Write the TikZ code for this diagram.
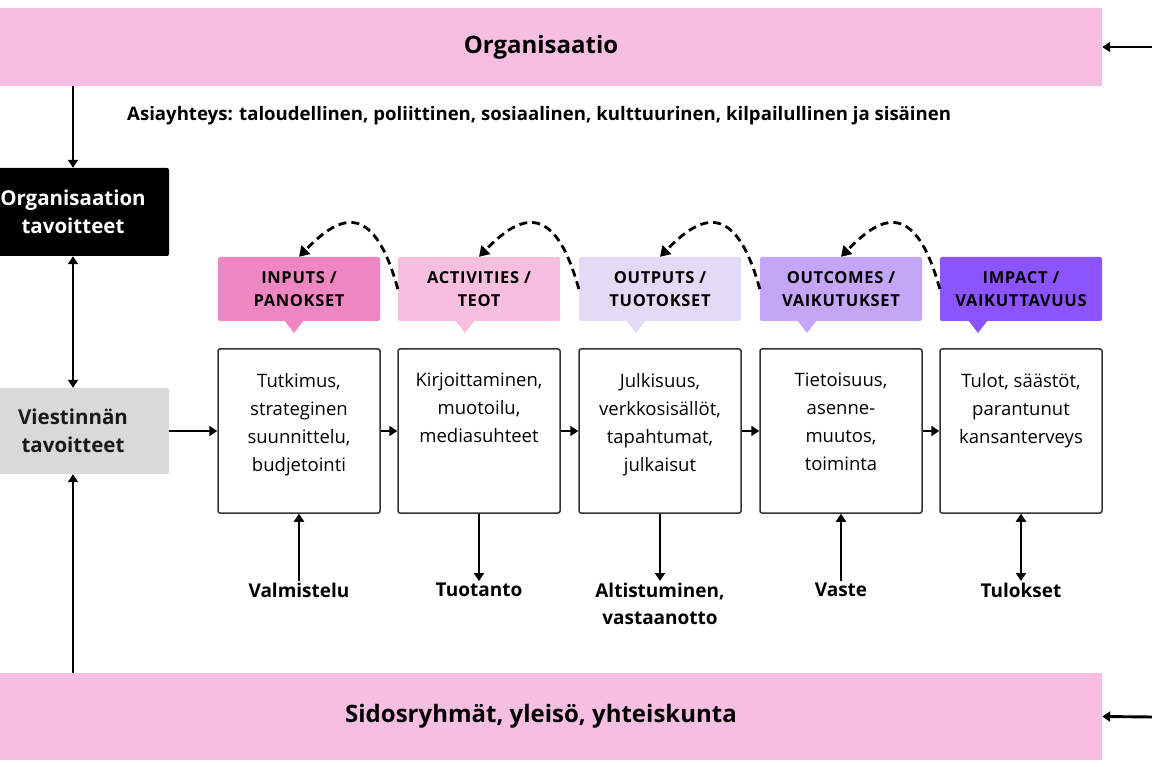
\documentclass[tikz,border=0pt]{standalone}
\usepackage{fontspec}
\setmainfont{Open Sans}
\newfontfamily\hdfont[LetterSpace=4]{Open Sans}
\usetikzlibrary{arrows.meta}
\definecolor{barpink}{RGB}{246,190,224}
\definecolor{cinputs}{RGB}{238,134,194}
\definecolor{cacts}{RGB}{247,190,224}
\definecolor{coutputs}{RGB}{228,218,246}
\definecolor{coutcomes}{RGB}{196,165,246}
\definecolor{cimpact}{RGB}{140,84,255}
\definecolor{cgray}{RGB}{217,217,217}
\definecolor{cborder}{RGB}{51,51,51}
\begin{document}
\begin{tikzpicture}[x=1pt,y=-1pt,
  arr/.style={line width=2.9pt,-{Triangle[length=8pt,width=10pt]}},
  arrtwo/.style={line width=2.9pt,{Triangle[length=8pt,width=10pt]}-{Triangle[length=8pt,width=10pt]}},
  dasharr/.style={line width=2.8pt,dash pattern=on 8pt off 5pt,-{Triangle[length=10pt,width=12pt]}},
  bar/.style={fill=barpink,minimum width=1122pt,inner sep=0pt,font=\bfseries\fontsize{24}{28}\selectfont},
  sidebox/.style={rounded corners=2pt,minimum width=192pt,inner sep=0pt,align=center,font=\bfseries\fontsize{20.5}{28}\selectfont},
  hdbox/.style={rounded corners=2pt,minimum width=162pt,minimum height=64pt,inner sep=0pt,align=center,font=\hdfont\bfseries\fontsize{16.5}{23}\selectfont},
  cbox/.style={draw=cborder,line width=1.5pt,rounded corners=2pt,minimum width=162pt,minimum height=164pt,inner sep=0pt},
  ctext/.style={anchor=north,align=center,inner sep=0pt,font=\fontsize{18.5}{28}\selectfont},
  blabel/.style={anchor=north,align=center,inner sep=2pt,font=\bfseries\fontsize{19}{27}\selectfont}]
\useasboundingbox (0,0) rectangle (1152,767);

% bars
\node[bar,minimum height=78pt] (org) at (541,47) {Organisaatio};
\node[bar,minimum height=87pt] (sid) at (541,716.5) {Sidosryhmät, yleisö, yhteiskunta};
\coordinate (orgin) at (1152,47);
\coordinate (sidin) at (1152,717);
\draw[arr] (orgin) -- (org.east);
\draw[arr] (sidin) -- (sid.east);

\node[anchor=west,inner sep=0pt,font=\bfseries\fontsize{18.6}{22}\selectfont] (ctx) at (127,116)
  {Asiayhteys: taloudellinen, poliittinen, sosiaalinen, kulttuurinen, kilpailullinen ja sisäinen};

% side boxes
\node[sidebox,fill=black,text=white,minimum height=88pt] (ot) at (73,212) {Organisaation\\tavoitteet};
\node[sidebox,fill=cgray,text=black!90,minimum height=86pt] (vt) at (73,431) {Viestinnän\\tavoitteet};
\draw[arr] (ot.north |- org.south) -- (ot.north);
\draw[arrtwo] (ot.south) -- (vt.north);
\draw[arr] (vt.south |- sid.north) -- (vt.south);

% headers
\node[hdbox,fill=cinputs] (h1) at (299,289) {INPUTS /\\PANOKSET};
\node[hdbox,fill=cacts] (h2) at (479,289) {ACTIVITIES /\\TEOT};
\node[hdbox,fill=coutputs] (h3) at (660,289) {OUTPUTS /\\TUOTOKSET};
\node[hdbox,fill=coutcomes] (h4) at (841,289) {OUTCOMES /\\VAIKUTUKSET};
\node[hdbox,fill=cimpact] (h5) at (1021,289) {IMPACT /\\VAIKUTTAVUUS};

% tails
\fill[cinputs] (284,320) -- (304,320) -- (294,333) -- cycle;
\fill[cacts] (455,320) -- (475,320) -- (465,333) -- cycle;
\fill[coutputs] (626,320) -- (646,320) -- (636,333) -- cycle;
\fill[coutcomes] (797,320) -- (817,320) -- (807,333) -- cycle;
\fill[cimpact] (968,320) -- (988,320) -- (978,333) -- cycle;

% dashed feedback arrows
\draw[dasharr] (h2.west) .. controls +(-26,-95) and +(36,-37) .. (h1.north);
\draw[dasharr] (h3.west) .. controls +(-26,-95) and +(36,-37) .. (h2.north);
\draw[dasharr] (h4.west) .. controls +(-26,-95) and +(36,-37) .. (h3.north);
\draw[dasharr] (h5.west) .. controls +(-26,-95) and +(36,-37) .. (h4.north);

% content boxes
\node[cbox] (c1) at (299,431) {};
\node[cbox] (c2) at (479,431) {};
\node[cbox] (c3) at (660,431) {};
\node[cbox] (c4) at (841,431) {};
\node[cbox] (c5) at (1021,431) {};
\node[ctext] (t1) at (299,373) {Tutkimus,\\strateginen\\suunnittelu,\\budjetointi};
\node[ctext] (t2) at (479,373) {Kirjoittaminen,\\muotoilu,\\mediasuhteet};
\node[ctext] (t3) at (660,373) {Julkisuus,\\verkkosisällöt,\\tapahtumat,\\julkaisut};
\node[ctext] (t4) at (841,373) {Tietoisuus,\\asenne-\\muutos,\\toiminta};
\node[ctext] (t5) at (1021,373) {Tulot, säästöt,\\parantunut\\kansanterveys};

\draw[arr] (vt.east) -- (c1.west);
\draw[arr] (c1.east) -- (c2.west);
\draw[arr] (c2.east) -- (c3.west);
\draw[arr] (c3.east) -- (c4.west);
\draw[arr] (c4.east) -- (c5.west);

% bottom labels
\node[blabel] (l1) at (299,581) {Valmistelu};
\node[blabel] (l2) at (479,581) {Tuotanto};
\node[blabel] (l3) at (660,581) {Altistuminen,\\vastaanotto};
\node[blabel] (l4) at (841,581) {Vaste};
\node[blabel] (l5) at (1021,581) {Tulokset};
\draw[arr] (l1.north) -- (c1.south);
\draw[arr] (c2.south) -- (l2.north);
\draw[arr] (c3.south) -- (l3.north);
\draw[arr] (l4.north) -- (c4.south);
\draw[arrtwo] (l5.north) -- (c5.south);
\end{tikzpicture}
\end{document}
